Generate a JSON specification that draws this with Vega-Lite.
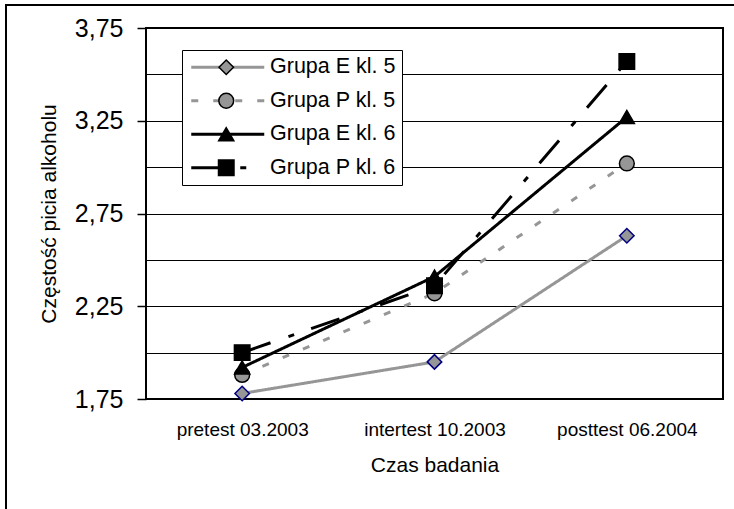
{
  "$schema": "https://vega.github.io/schema/vega-lite/v6.json",
  "width": 577,
  "height": 371,
  "autosize": {"type": "none"},
  "padding": {"left": 146, "top": 28, "right": 11, "bottom": 110},
  "background": "white",
  "config": {
    "font": "Liberation Sans",
    "view": {"stroke": "black", "strokeWidth": 2},
    "axis": {"labelColor": "black", "titleColor": "black", "titleFontWeight": "normal"}
  },
  "data": {
    "values": [
      {"time": "pretest 03.2003", "series": "Grupa E kl. 5", "value": 1.78},
      {"time": "intertest 10.2003", "series": "Grupa E kl. 5", "value": 1.95},
      {"time": "posttest 06.2004", "series": "Grupa E kl. 5", "value": 2.63},
      {"time": "pretest 03.2003", "series": "Grupa P kl. 5", "value": 1.88},
      {"time": "intertest 10.2003", "series": "Grupa P kl. 5", "value": 2.32},
      {"time": "posttest 06.2004", "series": "Grupa P kl. 5", "value": 3.02},
      {"time": "pretest 03.2003", "series": "Grupa E kl. 6", "value": 1.92},
      {"time": "intertest 10.2003", "series": "Grupa E kl. 6", "value": 2.41},
      {"time": "posttest 06.2004", "series": "Grupa E kl. 6", "value": 3.27},
      {"time": "pretest 03.2003", "series": "Grupa P kl. 6", "value": 2.0},
      {"time": "intertest 10.2003", "series": "Grupa P kl. 6", "value": 2.36},
      {"time": "posttest 06.2004", "series": "Grupa P kl. 6", "value": 3.57}
    ]
  },
  "encoding": {
    "x": {
      "field": "time",
      "type": "nominal",
      "sort": ["pretest 03.2003", "intertest 10.2003", "posttest 06.2004"],
      "scale": {"type": "point", "padding": 0.5},
      "axis": {
        "title": "Czas badania",
        "labelAngle": 0,
        "ticks": false,
        "domain": false,
        "labelFontSize": 19,
        "labelPadding": 21,
        "titleFontSize": 21,
        "titlePadding": 15
      }
    },
    "y": {
      "field": "value",
      "type": "quantitative",
      "scale": {"domain": [1.75, 3.75], "nice": false, "zero": false},
      "axis": {
        "title": "Częstość picia alkoholu",
        "titleFontSize": 21,
        "titlePadding": 15,
        "values": [1.75, 2, 2.25, 2.5, 2.75, 3, 3.25, 3.5, 3.75],
        "labelExpr": "(datum.value * 4) % 2 == 1 ? replace(format(datum.value, '.2f'), '.', ',') : ''",
        "labelFontSize": 25,
        "labelPadding": 14,
        "grid": true,
        "gridColor": "black",
        "gridWidth": 1,
        "gridOpacity": 1,
        "domain": false,
        "tickSize": 9,
        "tickColor": "black",
        "tickWidth": 1.5,
        "tickOpacity": {"condition": {"test": "(datum.value * 4) % 2 == 1", "value": 1}, "value": 0}
      }
    }
  },
  "layer": [
    {
      "mark": {"type": "line", "strokeWidth": 3},
      "encoding": {
        "stroke": {
          "field": "series",
          "type": "nominal",
          "sort": ["Grupa E kl. 5", "Grupa P kl. 5", "Grupa E kl. 6", "Grupa P kl. 6"],
          "scale": {"range": ["#969696", "#969696", "#000000", "#000000"]},
          "legend": null
        },
        "opacity": {
          "field": "series",
          "type": "nominal",
          "scale": {
            "domain": ["Grupa P kl. 6", "Grupa E kl. 6", "Grupa P kl. 5", "Grupa E kl. 5"],
            "range": [1, 1, 1, 1]
          },
          "legend": {
            "orient": "none",
            "legendX": -140,
            "legendY": -23,
            "title": null,
            "labelExpr": "''",
            "symbolOpacity": 0,
            "padding": 700,
            "strokeColor": "black",
            "zindex": 0,
            "encode": {
              "legend": {"update": {"strokeWidth": {"value": 2}}}
            }
          }
        },
        "strokeDash": {
          "field": "series",
          "type": "nominal",
          "sort": ["Grupa E kl. 5", "Grupa P kl. 5", "Grupa E kl. 6", "Grupa P kl. 6"],
          "scale": {"range": [[1, 0], [7, 15], [1, 0], [30, 19, 6, 18]]},
          "legend": {
            "orient": "none",
            "legendX": 36,
            "legendY": 22,
            "title": null,
            "symbolType": "M-1,0H8.125",
            "symbolSize": 256,
            "symbolStrokeWidth": 3,
            "labelOffset": 60,
            "labelFontSize": 21.5,
            "labelColor": "black",
            "rowPadding": 10.5,
            "padding": 6.5,
            "strokeColor": "black",
            "fillColor": "white",
            "zindex": 1,
            "encode": {
              "symbols": {
                "update": {
                  "stroke": {"signal": "indexof(['Grupa E kl. 6', 'Grupa P kl. 6'], datum.value) >= 0 ? '#000000' : '#969696'"},
                  "strokeWidth": {"value": 3}
                }
              }
            }
          }
        }
      }
    },
    {
      "mark": {"type": "point", "filled": true, "opacity": 1, "strokeWidth": 1.5},
      "encoding": {
        "shape": {
          "field": "series",
          "type": "nominal",
          "scale": {
            "domain": ["Grupa E kl. 5", "Grupa P kl. 5", "Grupa E kl. 6", "Grupa P kl. 6"],
            "range": ["diamond", "circle", "triangle-up", "square"]
          },
          "legend": {
            "orient": "none",
            "legendX": 63,
            "legendY": 22,
            "title": null,
            "labelExpr": "' '",
            "labelOpacity": 0,
            "labelFontSize": 21.5,
            "labelOffset": 170,
            "rowPadding": 10.5,
            "padding": 6.5,
            "zindex": 2,
            "symbolOpacity": 1,
            "encode": {
              "symbols": {
                "update": {
                  "stroke": {"signal": "datum.value === 'Grupa E kl. 5' ? '#000080' : '#000000'"},
                  "strokeWidth": {"value": 1.5}
                }
              }
            }
          }
        },
        "fill": {
          "field": "series",
          "type": "nominal",
          "scale": {
            "domain": ["Grupa E kl. 5", "Grupa P kl. 5", "Grupa E kl. 6", "Grupa P kl. 6"],
            "range": ["#969696", "#969696", "#000000", "#000000"]
          },
          "legend": {
            "orient": "none",
            "legendX": 63,
            "legendY": 22,
            "title": null,
            "labelExpr": "' '",
            "labelOpacity": 0,
            "labelFontSize": 21.5,
            "labelOffset": 170,
            "rowPadding": 10.5,
            "padding": 6.5,
            "zindex": 2,
            "symbolOpacity": 1
          }
        },
        "size": {
          "field": "series",
          "type": "nominal",
          "scale": {
            "domain": ["Grupa E kl. 5", "Grupa P kl. 5", "Grupa E kl. 6", "Grupa P kl. 6"],
            "range": [210, 240, 250, 300]
          },
          "legend": {
            "orient": "none",
            "legendX": 63,
            "legendY": 22,
            "title": null,
            "labelExpr": "' '",
            "labelOpacity": 0,
            "labelFontSize": 21.5,
            "labelOffset": 170,
            "rowPadding": 10.5,
            "padding": 6.5,
            "zindex": 2,
            "symbolOpacity": 1
          }
        },
        "stroke": {
          "condition": {"test": "datum.series === 'Grupa E kl. 5'", "value": "#000080"},
          "value": "#000000"
        }
      }
    }
  ]
}
